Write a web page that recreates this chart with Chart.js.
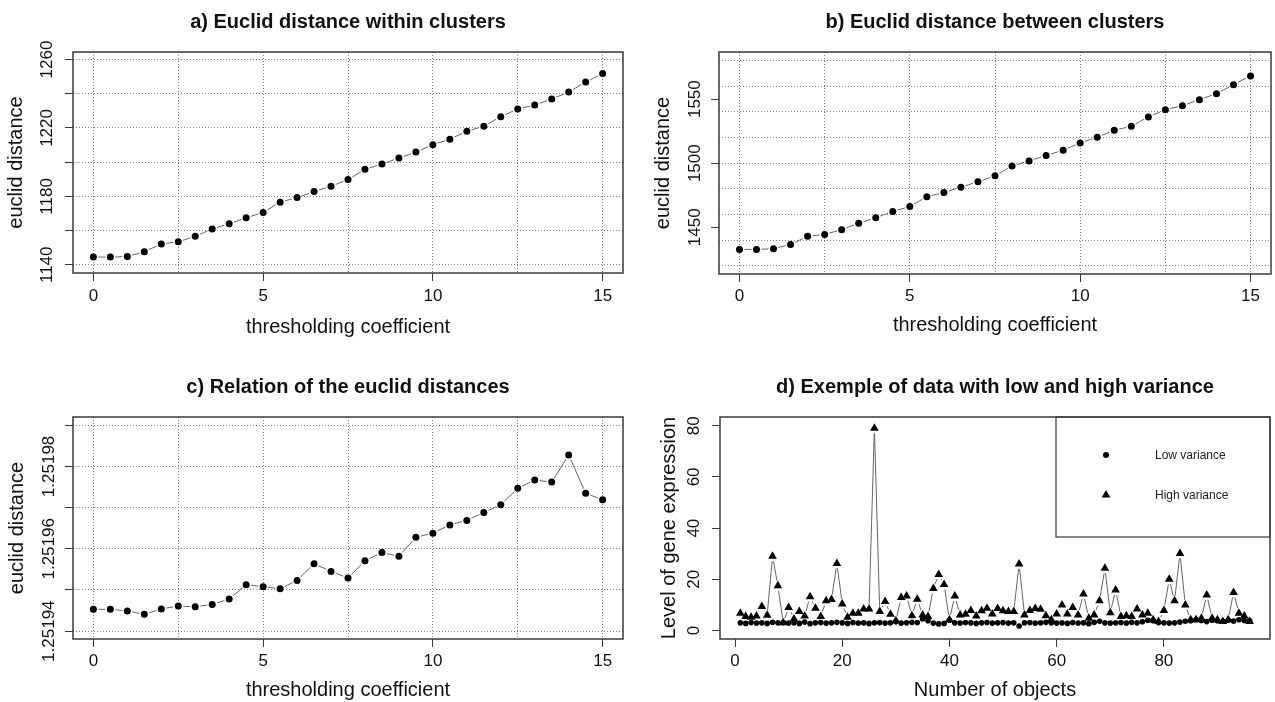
<!DOCTYPE html>
<html>
<head>
<meta charset="utf-8">
<script src="https://cdn.jsdelivr.net/npm/chart.js@4.4.0/dist/chart.umd.min.js"></script>
<style>
  html, body { margin: 0; padding: 0; background: #fff; }
  #page { position: relative; width: 1275px; height: 702px; overflow: hidden; background: #fff; }
  canvas { position: absolute; }
</style>
</head>
<body>
<div id="page">
  <canvas id="chartA" width="640" height="345" style="left:0;top:0"></canvas>
  <canvas id="chartB" width="635" height="345" style="left:640px;top:0"></canvas>
  <canvas id="chartC" width="640" height="357" style="left:0;top:345px"></canvas>
  <canvas id="chartD" width="635" height="357" style="left:640px;top:345px"></canvas>
</div>
<script>
// thresholding coefficient (x of panels a, b, c)
const thresholds = [0, 0.5, 1, 1.5, 2, 2.5, 3, 3.5, 4, 4.5, 5, 5.5, 6, 6.5, 7, 7.5,
  8, 8.5, 9, 9.5, 10, 10.5, 11, 11.5, 12, 12.5, 13, 13.5, 14, 14.5, 15];

// a) euclid distance within clusters
const withinDist = [1144.5, 1144.5, 1144.8, 1147.6, 1152.2, 1153.4, 1156.7, 1160.9, 1164.0, 1167.5,
  1170.6, 1176.6, 1179.3, 1182.8, 1185.9, 1189.8, 1195.8, 1198.9, 1202.4, 1205.9, 1210.2,
  1213.4, 1218.1, 1221.0, 1226.6, 1231.1, 1233.4, 1236.9, 1241.0, 1246.8, 1251.8];

// b) euclid distance between clusters
const betweenDist = [1432.7, 1432.7, 1433.2, 1436.6, 1442.9, 1444.4, 1448.1, 1453.2, 1457.4, 1462.3,
  1466.2, 1473.8, 1477.1, 1481.3, 1485.5, 1490.1, 1497.9, 1501.8, 1506.0, 1510.1, 1515.8,
  1520.3, 1525.7, 1528.8, 1536.1, 1541.8, 1544.9, 1549.6, 1554.3, 1561.3, 1568.1];

// c) relation of the euclid distances
const ratioDist = [1.2519453, 1.2519453, 1.2519449, 1.2519441, 1.2519454, 1.2519461, 1.2519459,
  1.2519465, 1.2519478, 1.2519513, 1.2519508, 1.2519503, 1.2519523, 1.2519564, 1.2519545,
  1.2519529, 1.2519571, 1.2519591, 1.2519582, 1.2519628, 1.2519638, 1.2519658, 1.2519669,
  1.2519688, 1.2519707, 1.2519747, 1.2519767, 1.2519762, 1.2519828, 1.2519735, 1.2519719];

// d) objects 1..96, low / high variance
const objects = Array.from({ length: 96 }, (_, i) => i + 1);
const lowVariance = [
  3.0, 2.8, 3.1, 2.9, 3.0, 2.8, 3.2, 3.0, 3.1, 2.9,
  3.0, 2.8, 3.3, 2.7, 3.0, 3.1, 2.9, 3.0, 3.2, 3.0,
  2.8, 3.1, 2.9, 3.0, 2.8, 3.0, 3.1, 2.9, 3.0, 3.4,
  2.9, 3.0, 3.2, 3.1, 4.5, 3.8, 2.9, 2.6, 2.8, 4.0,
  3.0, 2.9, 3.1, 3.0, 2.8, 3.0, 3.1, 2.9, 3.0, 3.1,
  2.9, 3.0, 1.8, 3.0, 3.1, 2.9, 3.0, 3.2, 3.0, 2.9,
  3.0, 2.8, 3.1, 2.9, 3.0, 2.7, 3.2, 3.6, 3.0, 2.9,
  3.0, 3.1, 2.9, 3.2, 3.0, 3.4, 4.0, 3.8, 3.1, 3.0,
  2.9, 3.0, 3.3, 3.6, 3.8, 4.2, 3.9, 3.5, 4.0, 3.8,
  3.6, 4.0, 3.7, 4.2, 3.9, 3.8];
const highVariance = [
  6.8, 5.5, 5.2, 5.7, 9.4, 6.0, 29.0, 17.5, 3.0, 9.0,
  4.5, 7.4, 5.7, 13.2, 8.7, 5.5, 11.6, 12.1, 26.2, 10.4,
  5.2, 6.8, 6.8, 8.4, 8.4, 79.0, 7.4, 11.3, 6.4, 3.8,
  12.9, 13.5, 5.8, 12.2, 6.1, 5.5, 16.4, 21.9, 18.0, 4.2,
  13.5, 6.1, 6.4, 7.8, 5.7, 7.7, 8.7, 6.5, 8.6, 7.7,
  7.4, 7.4, 26.0, 6.1, 7.8, 8.6, 8.3, 5.8, 4.2, 6.5,
  10.0, 6.5, 9.0, 6.1, 14.3, 4.8, 6.1, 11.6, 24.3, 7.0,
  15.8, 5.5, 5.8, 5.5, 8.4, 6.1, 6.8, 4.2, 3.5, 7.8,
  20.0, 11.6, 30.1, 10.0, 4.2, 4.2, 4.8, 13.9, 4.8, 4.2,
  3.5, 4.2, 14.9, 6.8, 5.7, 3.5];

// axis ticks
const xTicksABC = [0, 2.5, 5, 7.5, 10, 12.5, 15];
const yTicksA = [1140, 1160, 1180, 1200, 1220, 1240, 1260];
const yLabelsA = ['1140', '', '1180', '', '1220', '', '1260'];
const yTicksB = [1420, 1440, 1450, 1460, 1480, 1500, 1520, 1540, 1550, 1560, 1580];
const yLabelsB = ['', '', '1450', '', '', '1500', '', '', '1550', '', ''];
const yTicksC = [1.25194, 1.25195, 1.25196, 1.25197, 1.25198, 1.25199];
const yLabelsC = ['1.25194', '', '1.25196', '', '1.25198', ''];
const xTicksD = [0, 20, 40, 60, 80];
const yTicksD = [0, 20, 40, 60, 80];

Chart.defaults.font.family = "'Liberation Sans', Arial, sans-serif";
Chart.defaults.color = '#111';
Chart.defaults.animation = false;

const BOX = '#3a3a3a';
const GRID = '#808080';
const LINE = '#666';
const GAP = 5;

// R type="b": segments are cut back by a gap at both ends
function segLen(ctx) {
  return Math.hypot(ctx.p1.x - ctx.p0.x, ctx.p1.y - ctx.p0.y);
}
function brokenLine(color) {
  return {
    borderColor: ctx => segLen(ctx) > 2 * GAP ? color : 'rgba(0,0,0,0)',
    borderDash: ctx => {
      const L = segLen(ctx);
      return L > 2 * GAP ? [L - 2 * GAP, 2 * GAP] : [];
    },
    borderDashOffset: ctx => {
      const L = segLen(ctx);
      return L > 2 * GAP ? L - GAP : 0;
    }
  };
}

function toPoints(xs, ys) {
  return xs.map((x, i) => ({ x: x, y: ys[i] }));
}

// box around the plot region
const framePlugin = {
  id: 'frame',
  afterDraw(chart) {
    const a = chart.chartArea;
    const ctx = chart.ctx;
    ctx.save();
    ctx.strokeStyle = BOX;
    ctx.lineWidth = 1.5;
    ctx.strokeRect(a.left, a.top, a.right - a.left, a.bottom - a.top);
    ctx.restore();
  }
};

// y tick labels written parallel to the axis, as R does
const rotatedYTicks = {
  id: 'rotatedYTicks',
  afterDraw(chart, args, opts) {
    const scale = chart.scales.y;
    const ctx = chart.ctx;
    ctx.save();
    ctx.font = "17px 'Liberation Sans', Arial, sans-serif";
    ctx.fillStyle = '#111';
    ctx.textAlign = 'center';
    ctx.textBaseline = 'middle';
    scale.ticks.forEach(t => {
      if (!t.label) return;
      ctx.save();
      ctx.translate(chart.chartArea.left - opts.offset, scale.getPixelForValue(t.value));
      ctx.rotate(-Math.PI / 2);
      ctx.fillText(t.label, 0, 0);
      ctx.restore();
    });
    ctx.restore();
  }
};

// legend box of panel d (top right, inside the plot)
const boxLegend = {
  id: 'boxLegend',
  afterDraw(chart, args, opts) {
    if (!opts.items) return;
    const a = chart.chartArea;
    const ctx = chart.ctx;
    const left = a.right - 214;
    ctx.save();
    ctx.strokeStyle = BOX;
    ctx.lineWidth = 1.2;
    ctx.strokeRect(left, a.top, a.right - left, 120);
    ctx.font = "12px 'Liberation Sans', Arial, sans-serif";
    ctx.textBaseline = 'middle';
    ctx.textAlign = 'left';
    opts.items.forEach((it, i) => {
      const y = a.top + 38 + i * 40;
      const x = left + 50;
      ctx.fillStyle = '#000';
      ctx.beginPath();
      if (it.style === 'circle') {
        ctx.arc(x, y, 3, 0, Math.PI * 2);
      } else {
        const r = 5;
        ctx.moveTo(x, y - r);
        ctx.lineTo(x + r * 0.866, y + r / 2);
        ctx.lineTo(x - r * 0.866, y + r / 2);
        ctx.closePath();
      }
      ctx.fill();
      ctx.fillStyle = '#222';
      ctx.fillText(it.text, left + 99, y + 1);
    });
    ctx.restore();
  }
};

function panel(id, cfg) {
  return new Chart(document.getElementById(id), {
    type: 'scatter',
    data: { datasets: cfg.datasets },
    options: {
      responsive: false,
      layout: { padding: { left: 0, right: cfg.padRight, top: 0, bottom: 0 } },
      plugins: {
        legend: { display: false },
        tooltip: { enabled: false },
        title: {
          display: true,
          text: cfg.title,
          fullSize: false,
          color: '#111',
          font: { size: 20, weight: 'bold' },
          padding: { top: cfg.titleTop, bottom: cfg.titleBottom }
        },
        rotatedYTicks: { offset: cfg.yLabelOffset },
        boxLegend: { items: cfg.legend }
      },
      scales: {
        x: {
          type: 'linear',
          min: cfg.xMin,
          max: cfg.xMax,
          afterBuildTicks: s => { s.ticks = cfg.xTicks.map(v => ({ value: v })); },
          afterFit: s => { s.height = cfg.xHeight; },
          ticks: {
            autoSkip: false,
            maxRotation: 0,
            padding: cfg.xTickPad,
            font: { size: 17 },
            color: '#111',
            callback: v => (v % cfg.xLabelEvery === 0 ? String(v) : '')
          },
          grid: {
            display: true,
            drawOnChartArea: cfg.grid,
            color: GRID,
            lineWidth: 1,
            tickLength: 8,
            tickWidth: 1,
            tickColor: c => (c.tick && c.tick.value % cfg.xLabelEvery === 0 ? BOX : 'rgba(0,0,0,0)')
          },
          border: { display: false, dash: [1, 2] },
          title: {
            display: true,
            text: cfg.xTitle,
            font: { size: 20 },
            color: '#111',
            padding: { top: 0, bottom: cfg.xTitlePad }
          }
        },
        y: {
          type: 'linear',
          min: cfg.yMin,
          max: cfg.yMax,
          afterBuildTicks: s => { s.ticks = cfg.yTicks.map(v => ({ value: v })); },
          afterFit: s => { s.width = cfg.yWidth; },
          ticks: {
            display: false,
            callback: (v, i) => cfg.yLabels[i]
          },
          grid: {
            display: true,
            color: c => (cfg.grid && c.tick && cfg.yGrid(c.tick.value) ? GRID : 'rgba(0,0,0,0)'),
            lineWidth: 1,
            tickLength: 8,
            tickWidth: 1,
            tickColor: c => (c.tick && cfg.yTickMark(c.index) ? BOX : 'rgba(0,0,0,0)')
          },
          border: { display: false, dash: [1, 2] },
          title: {
            display: true,
            text: cfg.yTitle,
            font: { size: 20 },
            color: '#111',
            padding: { top: cfg.yTitlePad, bottom: 0 }
          }
        }
      }
    },
    plugins: [framePlugin, rotatedYTicks, boxLegend]
  });
}

function curveDataset(ys) {
  return {
    data: toPoints(thresholds, ys),
    showLine: true,
    borderWidth: 1,
    borderColor: LINE,
    segment: brokenLine(LINE),
    pointStyle: 'circle',
    pointRadius: 3.5,
    pointBorderWidth: 0,
    pointBackgroundColor: '#000',
    pointBorderColor: '#000'
  };
}

panel('chartA', {
  title: 'a) Euclid distance within clusters',
  datasets: [curveDataset(withinDist)],
  padRight: 17, titleTop: 10, titleBottom: 18,
  xMin: -0.6, xMax: 15.6, xTicks: xTicksABC, xLabelEvery: 5, xHeight: 72, xTickPad: 5, xTitlePad: 6,
  xTitle: 'thresholding coefficient',
  yMin: 1135.2, yMax: 1264.4, yTicks: yTicksA, yLabels: yLabelsA, yWidth: 73,
  yGrid: () => true, yTickMark: () => true,
  yTitle: 'euclid distance', yTitlePad: 4, yLabelOffset: 26, grid: true
});

panel('chartB', {
  title: 'b) Euclid distance between clusters',
  datasets: [curveDataset(betweenDist)],
  padRight: 4, titleTop: 10, titleBottom: 18,
  xMin: -0.6, xMax: 15.6, xTicks: xTicksABC, xLabelEvery: 5, xHeight: 71, xTickPad: 4, xTitlePad: 8,
  xTitle: 'thresholding coefficient',
  yMin: 1413.5, yMax: 1586.8, yTicks: yTicksB, yLabels: yLabelsB, yWidth: 79,
  yGrid: v => v % 20 === 0, yTickMark: i => yLabelsB[i] !== '',
  yTitle: 'euclid distance', yTitlePad: 11, yLabelOffset: 24, grid: true
});

panel('chartC', {
  title: 'c) Relation of the euclid distances',
  datasets: [curveDataset(ratioDist)],
  padRight: 17, titleTop: 30, titleBottom: 18,
  xMin: -0.6, xMax: 15.6, xTicks: xTicksABC, xLabelEvery: 5, xHeight: 63, xTickPad: 4, xTitlePad: 0,
  xTitle: 'thresholding coefficient',
  yMin: 1.2519381, yMax: 1.2519920, yTicks: yTicksC, yLabels: yLabelsC, yWidth: 73,
  yGrid: () => true, yTickMark: () => true,
  yTitle: 'euclid distance', yTitlePad: 5, yLabelOffset: 24, grid: true
});

panel('chartD', {
  title: 'd) Exemple of data with low and high variance',
  datasets: [
    {
      data: toPoints(objects, lowVariance),
      showLine: true,
      borderWidth: 1,
      borderColor: LINE,
      segment: brokenLine(LINE),
      pointStyle: 'circle',
      pointRadius: 2.8,
      pointBorderWidth: 0,
      pointBackgroundColor: '#000'
    },
    {
      data: toPoints(objects, highVariance),
      showLine: true,
      borderWidth: 1,
      borderColor: LINE,
      segment: brokenLine(LINE),
      pointStyle: 'triangle',
      pointRadius: 5,
      pointBorderWidth: 0,
      pointBackgroundColor: '#000'
    }
  ],
  legend: [
    { style: 'circle', text: 'Low variance' },
    { style: 'triangle', text: 'High variance' }
  ],
  padRight: 5, titleTop: 30, titleBottom: 18,
  xMin: -2.8, xMax: 99.8, xTicks: xTicksD, xLabelEvery: 20, xHeight: 63, xTickPad: 4, xTitlePad: 0,
  xTitle: 'Number of objects',
  yMin: -3.3, yMax: 83.4, yTicks: yTicksD, yLabels: ['0', '20', '40', '60', '80'], yWidth: 80,
  yGrid: () => false, yTickMark: () => true,
  yTitle: 'Level of gene expression', yTitlePad: 17, yLabelOffset: 26, grid: false
});
</script>
</body>
</html>
